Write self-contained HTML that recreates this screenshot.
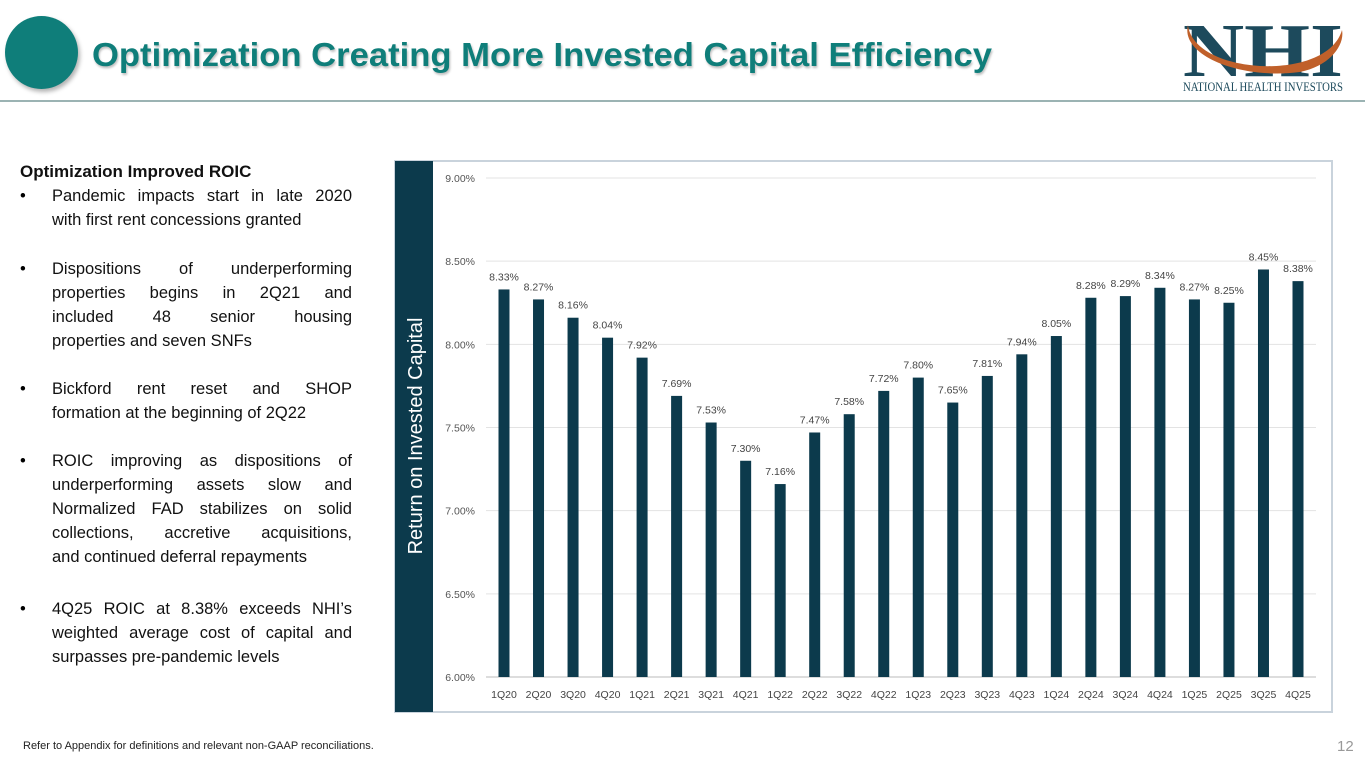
<!DOCTYPE html>
<html><head><meta charset="utf-8"><style>
body{margin:0;width:1365px;height:768px;overflow:hidden;background:#fff;font-family:"Liberation Sans",sans-serif;position:relative}
.abs{position:absolute}
.ln{position:absolute;left:52px;width:300px;font-size:16.5px;color:#111;white-space:nowrap;margin-top:2px}
.j{text-align:justify;text-align-last:justify}
.b{position:absolute;left:20px;font-size:16.5px;margin-top:2px}
</style></head><body>
<div class="abs" style="left:5px;top:16px;width:73px;height:73px;border-radius:50%;background:#0f7e7a;box-shadow:2px 3px 4px rgba(0,0,0,.3)"></div>
<svg class="abs" style="left:0;top:0" width="1365" height="110">
<text x="92" y="66" font-family="Liberation Sans" font-weight="bold" font-size="33" fill="#0f7e7a" textLength="900" lengthAdjust="spacingAndGlyphs" style="text-shadow:1px 2px 2px rgba(0,0,0,.25)">Optimization Creating More Invested Capital Efficiency</text>
<line x1="0" y1="101" x2="1365" y2="101" stroke="#7a9a9a" stroke-width="1.5"/>
<g>
<text x="1183" y="76" font-family="Liberation Serif" font-weight="bold" font-size="76" fill="#1d4a5c" textLength="160" lengthAdjust="spacingAndGlyphs">NHI</text>
<path d="M1188,25 C1180,55 1240,80 1300,72 C1330,66 1345,45 1342,30 C1335,55 1300,68 1260,66 C1215,63 1190,45 1188,25Z" fill="#c0602a"/>
<text x="1183" y="91" font-family="Liberation Serif" font-size="13" fill="#1d4a5c" textLength="160" lengthAdjust="spacingAndGlyphs">NATIONAL HEALTH INVESTORS</text>
</g>
</svg>
<div class="abs" style="left:20px;top:162px;font-size:17px;font-weight:bold;color:#111">Optimization Improved ROIC</div>
<div>
<span class="b" style="top:185px">•</span>
<div class="ln j" style="top:185px">Pandemic impacts start in late 2020</div>
<div class="ln" style="top:209px">with first rent concessions granted</div>
<span class="b" style="top:258px">•</span>
<div class="ln j" style="top:258px">Dispositions of underperforming</div>
<div class="ln j" style="top:282px">properties begins in 2Q21 and</div>
<div class="ln j" style="top:306px">included 48 senior housing</div>
<div class="ln" style="top:330px">properties and seven SNFs</div>
<span class="b" style="top:378px">•</span>
<div class="ln j" style="top:378px">Bickford rent reset and SHOP</div>
<div class="ln" style="top:402px">formation at the beginning of 2Q22</div>
<span class="b" style="top:450px">•</span>
<div class="ln j" style="top:450px">ROIC improving as dispositions of</div>
<div class="ln j" style="top:474px">underperforming assets slow and</div>
<div class="ln j" style="top:498px">Normalized FAD stabilizes on solid</div>
<div class="ln j" style="top:522px">collections, accretive acquisitions,</div>
<div class="ln" style="top:546px">and continued deferral repayments</div>
<span class="b" style="top:598px">•</span>
<div class="ln j" style="top:598px">4Q25 ROIC at 8.38% exceeds NHI’s</div>
<div class="ln j" style="top:622px">weighted average cost of capital and</div>
<div class="ln" style="top:646px">surpasses pre-pandemic levels</div>
</div>
<div class="abs" style="left:23px;top:740px;font-size:11px;color:#222">Refer to Appendix for definitions and relevant non-GAAP reconciliations.</div>
<div class="abs" style="left:1337px;top:738px;font-size:15px;color:#999">12</div>
<svg id="chart" class="abs" style="left:0;top:0" width="1365" height="768"></svg>
<script>
const categories=["1Q20","2Q20","3Q20","4Q20","1Q21","2Q21","3Q21","4Q21","1Q22","2Q22","3Q22","4Q22","1Q23","2Q23","3Q23","4Q23","1Q24","2Q24","3Q24","4Q24","1Q25","2Q25","3Q25","4Q25"];
const roicValues=[8.33,8.27,8.16,8.04,7.92,7.69,7.53,7.30,7.16,7.47,7.58,7.72,7.80,7.65,7.81,7.94,8.05,8.28,8.29,8.34,8.27,8.25,8.45,8.38];
const yTicks=[6.00,6.50,7.00,7.50,8.00,8.50,9.00];
const NS="http://www.w3.org/2000/svg";
const svg=document.getElementById('chart');
const yMin=6,yMax=9,yTop=178,yBot=677;
const y=v=>yBot-(v-yMin)/(yMax-yMin)*(yBot-yTop);
const x0=504,x1=1298;
const x=i=>x0+i*(x1-x0)/(categories.length-1);
function mk(t,a,txt){const e=document.createElementNS(NS,t);for(const k in a)e.setAttribute(k,a[k]);if(txt!=null)e.textContent=txt;svg.appendChild(e);return e;}
let e=mk('rect',{x:395,y:161,width:937,height:551,fill:'#fff',stroke:'#c9d3dc','stroke-width':2});


e=mk('rect',{x:395,y:161,width:38,height:551,fill:'#0c3a4c'});


e=mk('text',{x:0,y:0,transform:'translate(422,436) rotate(-90)','text-anchor':'middle','font-size':20,fill:'#fff','font-family':'Liberation Sans'},'Return on Invested Capital');


yTicks.forEach(t=>{
 const g=mk('line',{x1:486,x2:1316,y1:y(t),y2:y(t),stroke:t===6?'#bbb':'#e3e3e3','stroke-width':1});
 
 
 const l=mk('text',{x:475,y:y(t)+4,'text-anchor':'end','font-size':10.5,fill:'#555'},t.toFixed(2)+'%');
 
 
});
categories.forEach((c,i)=>{
 const v=roicValues[i];
 const b=mk('rect',{x:x(i)-5.5,y:y(v),width:11,height:yBot-y(v),fill:'#0c3a4c'});
 
 
 const l=mk('text',{x:x(i),y:y(v)-9,'text-anchor':'middle','font-size':10.5,fill:'#444'},v.toFixed(2)+'%');
 
 
 const t=mk('text',{x:x(i),y:698,'text-anchor':'middle','font-size':10.5,fill:'#444'},c);
 
 
});
</script>
</body></html>
